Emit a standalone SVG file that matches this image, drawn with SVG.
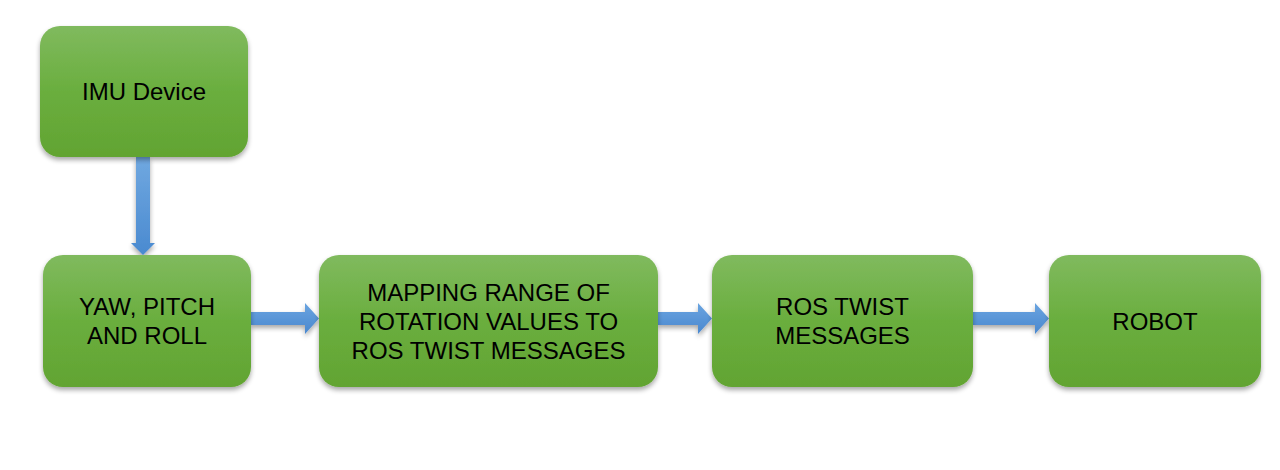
<svg xmlns="http://www.w3.org/2000/svg" width="1280" height="470" viewBox="0 0 1280 470">
<defs>
<linearGradient id="g" x1="0" y1="0" x2="0" y2="1">
<stop offset="0" stop-color="#80ba5e"/>
<stop offset="0.5" stop-color="#6aae3e"/>
<stop offset="1" stop-color="#62a432"/>
</linearGradient>
<linearGradient id="bv" x1="0" y1="0" x2="0" y2="1">
<stop offset="0" stop-color="#70a8e0"/>
<stop offset="1" stop-color="#4a8ad0"/>
</linearGradient>
<linearGradient id="bh" x1="0" y1="0" x2="0" y2="1">
<stop offset="0" stop-color="#6aa4e0"/>
<stop offset="1" stop-color="#4a88cf"/>
</linearGradient>
<filter id="sh" x="-10%" y="-10%" width="120%" height="130%">
<feGaussianBlur in="SourceAlpha" stdDeviation="2.5"/>
<feOffset dx="0" dy="3" result="b"/>
<feComponentTransfer><feFuncA type="linear" slope="0.35"/></feComponentTransfer>
<feMerge><feMergeNode/><feMergeNode in="SourceGraphic"/></feMerge>
</filter>
</defs>
<style>
.box{fill:url(#g);filter:url(#sh)}
.t{font-family:"Liberation Sans",Arial,sans-serif;font-size:24px;fill:#000;text-anchor:middle}
.av{fill:url(#bv);filter:url(#sh)}
.ah{fill:url(#bh);filter:url(#sh)}
</style>
<rect width="1280" height="470" fill="#fff"/>
<g id="connectors">
<polygon class="av" points="136,157 150,157 150,243 155,243 143,255 131,243 136,243"/>
<polygon class="ah" points="251,312 305,312 305,303 319,318.5 305,334 305,325 251,325"/>
<polygon class="ah" points="658,312 698,312 698,303 712,318.5 698,334 698,325 658,325"/>
<polygon class="ah" points="973,312 1035,312 1035,303 1049,318.5 1035,334 1035,325 973,325"/>
</g>
<g id="imu">
<rect class="box" x="40" y="26" width="208" height="131" rx="20"/>
<text class="t" x="144" y="100">IMU Device</text>
</g>
<g id="ypr">
<rect class="box" x="43" y="255" width="208" height="132" rx="20"/>
<text class="t" x="147" y="315">YAW, PITCH</text>
<text class="t" x="147" y="344">AND ROLL</text>
</g>
<g id="mapping">
<rect class="box" x="319" y="255" width="339" height="132" rx="20"/>
<text class="t" x="488.5" y="301">MAPPING RANGE OF</text>
<text class="t" x="488.5" y="330">ROTATION VALUES TO</text>
<text class="t" x="488.5" y="359">ROS TWIST MESSAGES</text>
</g>
<g id="twist">
<rect class="box" x="712" y="255" width="261" height="132" rx="20"/>
<text class="t" x="842.5" y="315">ROS TWIST</text>
<text class="t" x="842.5" y="344">MESSAGES</text>
</g>
<g id="robot">
<rect class="box" x="1049" y="255" width="212" height="132" rx="20"/>
<text class="t" x="1155" y="330">ROBOT</text>
</g>
</svg>
